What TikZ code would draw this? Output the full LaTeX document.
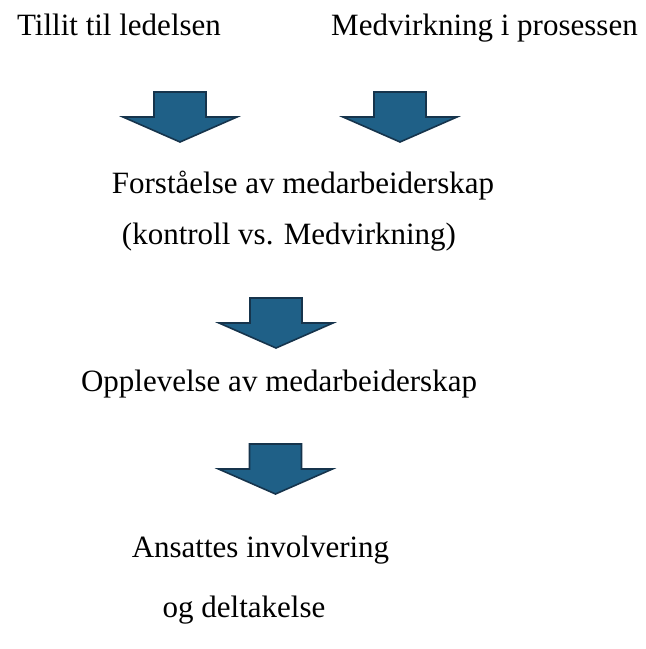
\documentclass[tikz,border=0pt]{standalone}
\usepackage{fontspec}
\setmainfont{Liberation Serif}
\definecolor{arrowfill}{RGB}{31,96,135}
\definecolor{arrowline}{RGB}{22,52,76}
\begin{document}
\begin{tikzpicture}[x=1pt,y=-1pt,
  lbl/.style={font=\fontsize{31}{36}\selectfont, anchor=base, inner sep=0pt},
  blockarrow/.pic={
    \draw[fill=arrowfill, draw=arrowline, line width=1.6pt, line join=miter]
      (-26,0) -- (26,0) -- (26,25) -- (57,25) -- (0,50) -- (-57,25) -- (-26,25) -- cycle;
  }]
\useasboundingbox (0,0) rectangle (646,649);
\node[lbl] (tillit) at (119,35) {Tillit til ledelsen};
\node[lbl] (medv) at (484.5,35) {Medvirkning i prosessen};
\pic at (180,92) {blockarrow};
\pic at (400,92) {blockarrow};
\node[lbl] (forst) at (303,193) {Forståelse av medarbeiderskap};
\node[lbl] (kontroll) at (289,244) {(kontroll vs. Medvirkning)};
\pic at (276,298) {blockarrow};
\node[lbl] (oppl) at (279,391) {Opplevelse av medarbeiderskap};
\pic at (275.5,444) {blockarrow};
\node[lbl] (ansatt) at (260.5,557) {Ansattes involvering};
\node[lbl] (og) at (244,617) {og deltakelse};
\end{tikzpicture}
\end{document}
